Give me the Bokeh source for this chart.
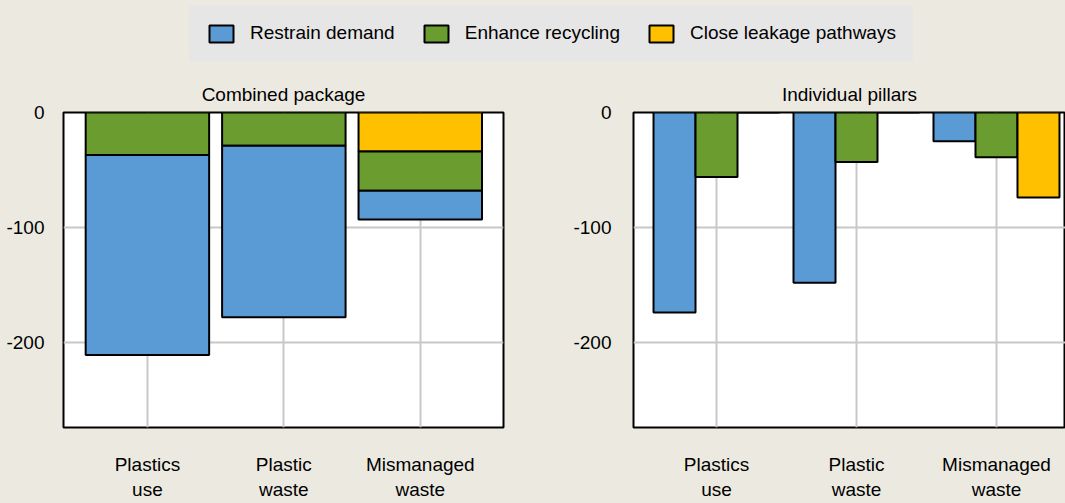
from bokeh.plotting import figure
from bokeh.models import Range1d, FixedTicker, Legend, LegendItem, ColumnDataSource
from bokeh.layouts import column, row
from bokeh.transform import dodge
from bokeh.embed import file_html
from bokeh.resources import INLINE

# ---- data ----
categories = ["Plastics\nuse", "Plastic\nwaste", "Mismanaged\nwaste"]
series_names = ["Restrain demand", "Enhance recycling", "Close leakage pathways"]
combined_restrain = [-174, -149, -25]
combined_recycle = [-37, -29, -34]
combined_close = [0, 0, -34]
individual_restrain = [-174, -148, -25]
individual_recycle = [-56, -43, -39]
individual_close = [0, 0, -74]
y_ticks = [-200, -100, 0]

# ---- styles ----
FONT = "Liberation Sans"
FS = "19px"
BG = "#ECEAE0"
BLUE = "#5B9BD5"
GREEN = "#6A9C2F"
YELLOW = "#FFC000"
GRID = "#C8C8C8"
LEGBG = "#E6E6E6"

xpos = list(range(len(categories)))
xlabels = {i: c for i, c in enumerate(categories)}
ylabels = {t: str(t) for t in y_ticks}


def style(p, title, ystandoff):
    p.title.text = title
    p.title.align = "center"
    p.title.text_font = FONT
    p.title.text_font_size = FS
    p.title.text_font_style = "normal"
    p.title.text_color = "black"
    p.title.standoff = 15
    p.background_fill_color = "white"
    p.border_fill_color = BG
    p.outline_line_color = "black"
    p.outline_line_width = 2
    p.outline_line_alpha = 1
    p.xaxis.ticker = FixedTicker(ticks=xpos)
    p.xgrid.ticker = FixedTicker(ticks=xpos)
    p.yaxis.ticker = FixedTicker(ticks=y_ticks)
    p.ygrid.ticker = FixedTicker(ticks=y_ticks)
    p.grid.grid_line_color = GRID
    p.grid.grid_line_width = 2
    p.xaxis.major_label_overrides = xlabels
    p.yaxis.major_label_overrides = ylabels
    for ax in (p.xaxis, p.yaxis):
        ax.axis_line_color = None
        ax.major_tick_line_color = None
        ax.minor_tick_line_color = None
        ax.major_label_text_font = FONT
        ax.major_label_text_font_size = FS
        ax.major_label_text_color = "black"
    p.xaxis.major_label_standoff = 20
    p.yaxis.major_label_standoff = ystandoff
    p.yaxis.major_label_text_baseline = "top"


# ---- legend strip ----
leg = figure(width=1065, height=68, toolbar_location=None, output_backend="svg",
             x_range=Range1d(0, 1), y_range=Range1d(0, 1),
             min_border_left=0, min_border_right=0, min_border_top=0, min_border_bottom=0)
leg.axis.visible = False
leg.grid.visible = False
leg.outline_line_color = None
leg.background_fill_color = BG
leg.border_fill_color = BG
items = []
for name, col in zip(series_names, [BLUE, GREEN, YELLOW]):
    # placeholder renderer outside the view, only used for the legend swatch
    r = leg.vbar(x=[5], top=[0], bottom=[0], width=0.01, fill_color=col,
                 line_color="black", line_width=2)
    items.append(LegendItem(label=name, renderers=[r]))
legend = Legend(items=items, orientation="horizontal", location=(189, 7),
                glyph_width=30, glyph_height=21, label_standoff=14, spacing=26,
                padding=16, margin=0, background_fill_color=LEGBG,
                background_fill_alpha=1, border_line_color=LEGBG, border_line_width=1,
                label_text_font=FONT, label_text_font_size=FS, label_text_color="black")
leg.add_layout(legend, "center")

# ---- combined package ----
src1 = ColumnDataSource(dict(x=xpos, restrain=combined_restrain,
                             recycle=combined_recycle, close=combined_close))
p1 = figure(width=568, height=435, toolbar_location=None, output_backend="svg",
            x_range=Range1d(-0.615, 2.61), y_range=Range1d(-274, 0),
            min_border_left=63, min_border_right=65, min_border_top=44, min_border_bottom=76)
style(p1, "Combined package", 13)
p1.vbar_stack(["close", "recycle", "restrain"], x="x", width=0.905, source=src1,
              fill_color=[YELLOW, GREEN, BLUE], line_color="black", line_width=2)

# ---- individual pillars ----
src2 = ColumnDataSource(dict(x=xpos, restrain=individual_restrain,
                             recycle=individual_recycle, close=individual_close))
p2 = figure(width=497, height=435, toolbar_location=None, output_backend="svg",
            x_range=Range1d(-0.593, 2.493), y_range=Range1d(-274, 0),
            min_border_left=65, min_border_right=0, min_border_top=44, min_border_bottom=76)
style(p2, "Individual pillars", 16)
for key, off, col in (("restrain", -0.3, BLUE), ("recycle", 0.0, GREEN), ("close", 0.3, YELLOW)):
    p2.vbar(x=dodge("x", off, range=p2.x_range), top=key, bottom=0, width=0.3, source=src2,
            fill_color=col, line_color="black", line_width=2)

p = column(leg, row(p1, p2))

html = file_html(p, INLINE)
css = "<style>html, body { background-color: %s !important; }</style>" % BG
html = html.replace("</head>", css + "</head>", 1)
open("out.html", "w").write(html)
